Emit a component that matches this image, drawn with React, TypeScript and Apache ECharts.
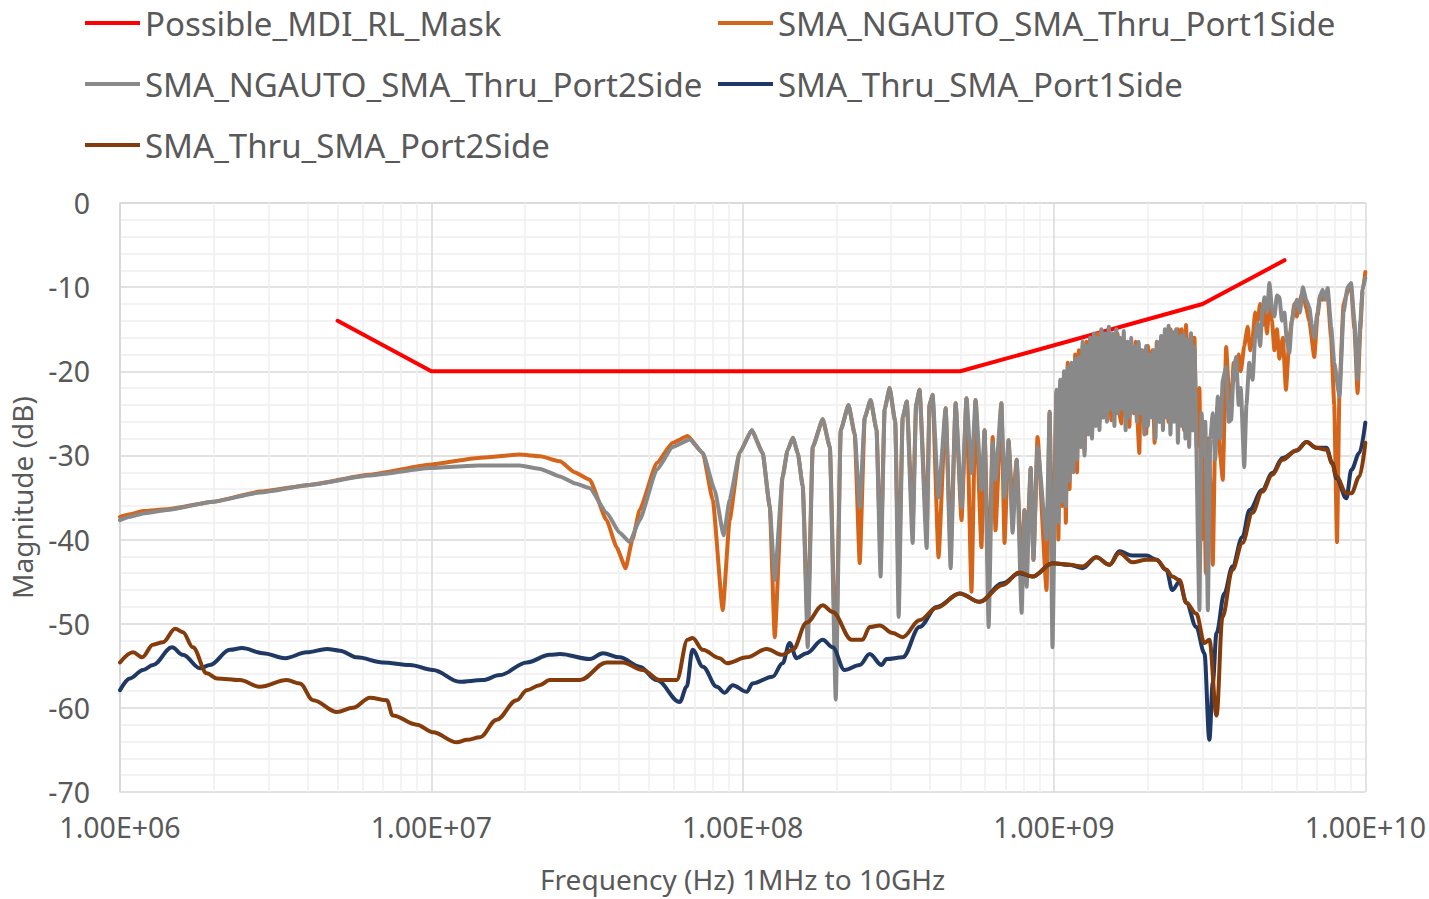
import React, { useEffect, useRef } from "react";
import * as echarts from "echarts";

// Frequencies for the mask are in Hz; the measured traces are stored as [log10(Hz), dB]
const MASK_HZ_DB: [number, number][] = [
  [5e6, -14], [1e7, -20], [5e8, -20], [3e9, -12], [5.5e9, -6.8],
];

const NGAUTO_PORT1_LOGF_DB: [number, number][] = [
  [6.000, -37.3], [6.032, -37.0], [6.074, -36.6], [6.150, -36.4], [6.299, -35.5], [6.450, -34.3],
  [6.610, -33.5], [6.800, -32.3], [6.995, -31.1], [7.150, -30.3], [7.284, -29.9], [7.350, -30.1],
  [7.413, -30.7], [7.460, -32.0], [7.509, -32.9], [7.563, -37.7], [7.595, -40.9], [7.624, -43.4],
  [7.646, -40.0], [7.669, -36.5], [7.724, -30.9], [7.775, -28.5], [7.823, -27.7], [7.872, -29.7],
  [7.904, -35.3], [7.936, -48.4], [7.958, -37.7], [7.990, -29.7], [8.029, -27.0], [8.064, -29.7],
  [8.087, -36.1], [8.103, -51.6], [8.128, -32.6], [8.144, -29.4], [8.161, -27.9], [8.177, -29.7],
  [8.193, -33.7], [8.209, -50.0], [8.225, -29.0], [8.257, -25.7], [8.280, -29.0], [8.299, -55.0],
  [8.315, -27.0], [8.340, -24.0], [8.360, -27.5], [8.376, -42.8], [8.392, -25.5], [8.411, -23.4],
  [8.430, -27.0], [8.443, -42.0], [8.456, -24.5], [8.472, -22.0], [8.490, -26.0], [8.501, -45.0],
  [8.514, -25.5], [8.527, -23.6], [8.546, -38.0], [8.557, -24.0], [8.568, -22.2], [8.591, -39.0],
  [8.600, -24.0], [8.610, -22.8], [8.629, -42.1], [8.652, -24.4], [8.668, -41.0], [8.684, -23.8],
  [8.703, -37.7], [8.719, -23.2], [8.735, -46.2], [8.748, -23.4], [8.767, -40.9], [8.777, -27.0],
  [8.790, -45.0], [8.803, -27.8], [8.812, -38.9], [8.831, -23.8], [8.841, -40.4], [8.854, -28.2],
  [8.867, -36.0], [8.880, -30.5], [8.896, -44.0], [8.905, -36.5], [8.912, -42.0], [8.925, -31.5],
  [8.934, -42.4], [8.947, -27.8], [8.976, -46.0], [8.986, -24.8], [8.995, -45.0],
  [9.008, -22.5], [9.014, -40.0], [9.020, -21.5], [9.026, -36.0], [9.032, -20.5], [9.038, -38.0],
  [9.044, -19.0], [9.050, -34.0], [9.056, -19.5], [9.062, -31.0], [9.068, -18.0], [9.074, -32.0],
  [9.080, -17.5], [9.086, -28.0], [9.092, -17.0], [9.098, -29.5], [9.104, -16.5], [9.110, -26.5],
  [9.116, -16.0], [9.122, -27.5], [9.128, -15.8], [9.134, -25.5], [9.140, -15.5], [9.146, -26.0],
  [9.152, -15.2], [9.158, -25.0], [9.164, -15.6], [9.170, -24.5], [9.176, -15.0], [9.184, -25.8],
  [9.190, -16.0], [9.198, -24.0], [9.204, -15.5], [9.210, -25.0], [9.216, -26.2], [9.222, -16.0],
  [9.230, -25.5], [9.236, -16.5], [9.242, -26.6], [9.248, -17.0], [9.256, -25.0], [9.262, -16.5],
  [9.268, -26.0], [9.274, -29.7], [9.280, -17.5], [9.288, -26.0], [9.296, -27.4], [9.302, -17.0],
  [9.310, -25.0], [9.316, -17.5], [9.323, -28.5], [9.330, -16.5], [9.339, -26.0], [9.346, -16.0],
  [9.352, -25.5], [9.360, -15.5], [9.368, -26.0], [9.374, -15.0], [9.380, -25.0], [9.386, -15.5],
  [9.392, -23.4], [9.398, -15.0], [9.404, -25.5], [9.410, -15.0], [9.418, -27.0], [9.424, -14.5],
  [9.432, -26.0], [9.440, -15.5], [9.446, -27.0], [9.451, -16.0], [9.458, -29.0], [9.467, -22.0],
  [9.474, -40.0], [9.480, -26.0], [9.488, -44.0], [9.496, -28.0], [9.504, -35.0], [9.510, -43.0],
  [9.518, -27.0], [9.526, -24.0], [9.534, -30.0], [9.542, -32.9], [9.553, -17.1], [9.561, -22.0],
  [9.569, -24.0], [9.577, -19.0], [9.585, -21.0], [9.593, -18.0], [9.600, -20.0], [9.611, -17.0],
  [9.622, -14.7], [9.630, -17.5], [9.638, -16.0], [9.646, -13.0], [9.654, -14.0], [9.662, -12.0],
  [9.670, -14.5], [9.676, -12.5], [9.684, -15.5], [9.692, -12.0], [9.700, -14.0], [9.708, -17.5],
  [9.716, -15.0], [9.724, -18.5], [9.735, -16.0], [9.745, -22.2], [9.756, -16.0], [9.764, -14.0],
  [9.772, -12.0], [9.780, -13.5], [9.790, -11.5], [9.799, -10.5], [9.810, -12.5], [9.820, -14.0],
  [9.836, -18.3], [9.846, -13.5], [9.855, -11.0], [9.863, -11.5], [9.879, -11.0], [9.890, -16.0],
  [9.900, -24.0], [9.909, -40.3], [9.917, -22.0], [9.930, -12.0], [9.943, -10.5], [9.954, -10.0],
  [9.965, -15.0], [9.975, -22.6], [9.984, -15.0], [9.991, -10.5], [10.000, -8.2],
];

const NGAUTO_PORT2_LOGF_DB: [number, number][] = [
  [6.000, -37.7], [6.032, -37.3], [6.074, -36.9], [6.150, -36.5], [6.299, -35.5], [6.450, -34.4],
  [6.610, -33.5], [6.800, -32.4], [6.995, -31.5], [7.150, -31.2], [7.284, -31.2], [7.350, -31.6],
  [7.413, -32.5], [7.460, -33.3], [7.509, -33.9], [7.563, -36.8], [7.605, -39.2], [7.637, -40.3],
  [7.669, -37.7], [7.724, -31.7], [7.775, -29.0], [7.830, -28.1], [7.872, -29.7], [7.910, -34.1],
  [7.939, -39.5], [7.958, -35.3], [7.990, -29.7], [8.029, -27.0], [8.064, -29.7], [8.087, -36.1],
  [8.103, -44.8], [8.128, -32.6], [8.144, -29.4], [8.161, -27.9], [8.177, -29.7], [8.193, -33.7],
  [8.209, -52.8], [8.225, -29.0], [8.257, -25.7], [8.280, -29.0], [8.299, -59.0], [8.315, -27.0],
  [8.340, -24.0], [8.360, -27.5], [8.376, -36.2], [8.392, -25.5], [8.411, -23.4], [8.430, -27.0],
  [8.443, -44.4], [8.456, -24.5], [8.472, -22.0], [8.490, -26.0], [8.501, -49.2], [8.514, -25.5],
  [8.527, -23.6], [8.546, -40.4], [8.557, -24.0], [8.568, -22.2], [8.591, -41.0], [8.600, -24.0],
  [8.610, -22.8], [8.629, -35.0], [8.652, -24.4], [8.668, -43.4], [8.684, -23.8], [8.703, -36.2],
  [8.719, -23.2], [8.735, -32.1], [8.748, -23.4], [8.767, -34.1], [8.777, -27.0], [8.790, -50.4],
  [8.803, -28.5], [8.812, -32.9], [8.831, -23.8], [8.841, -35.0], [8.854, -28.2], [8.867, -39.2],
  [8.880, -30.5], [8.896, -48.7], [8.905, -36.5], [8.912, -45.6], [8.925, -31.5], [8.934, -42.4],
  [8.947, -29.0], [8.976, -40.0], [8.986, -24.8], [8.995, -52.8],
  [9.008, -22.2], [9.014, -38.0], [9.020, -21.0], [9.026, -35.5], [9.032, -20.0], [9.038, -36.0],
  [9.044, -19.5], [9.050, -33.0], [9.056, -19.0], [9.062, -32.0], [9.068, -18.5], [9.074, -30.5],
  [9.080, -18.3], [9.086, -29.0], [9.092, -16.5], [9.098, -30.0], [9.104, -17.0], [9.110, -27.5],
  [9.116, -16.0], [9.122, -28.0], [9.128, -15.5], [9.134, -26.5], [9.140, -16.0], [9.146, -27.0],
  [9.152, -15.0], [9.158, -25.5], [9.164, -15.5], [9.170, -26.0], [9.176, -14.7], [9.182, -24.5],
  [9.188, -15.5], [9.194, -26.5], [9.200, -15.0], [9.206, -25.0], [9.212, -16.0], [9.218, -24.5],
  [9.224, -15.2], [9.230, -27.0], [9.236, -16.5], [9.242, -25.5], [9.248, -16.0], [9.254, -24.8],
  [9.260, -17.0], [9.266, -26.0], [9.272, -16.5], [9.278, -25.0], [9.284, -17.5], [9.290, -27.5],
  [9.296, -17.0], [9.302, -26.5], [9.308, -18.0], [9.314, -25.5], [9.320, -17.5], [9.326, -28.0],
  [9.332, -16.5], [9.338, -26.0], [9.344, -15.8], [9.350, -27.0], [9.356, -15.0], [9.362, -25.5],
  [9.368, -14.6], [9.374, -27.5], [9.380, -15.3], [9.386, -26.0], [9.392, -15.0], [9.398, -28.5],
  [9.404, -15.8], [9.410, -26.5], [9.416, -15.5], [9.422, -28.0], [9.428, -16.2], [9.434, -29.0],
  [9.440, -15.5], [9.446, -27.0], [9.451, -17.1], [9.467, -48.4], [9.474, -25.0], [9.480, -30.0],
  [9.486, -26.0], [9.494, -48.4], [9.502, -28.0], [9.510, -25.0], [9.518, -30.5], [9.526, -23.0],
  [9.534, -28.0], [9.542, -21.0], [9.553, -19.5], [9.561, -26.0], [9.569, -25.8], [9.577, -20.0],
  [9.585, -18.3], [9.593, -24.0], [9.600, -22.0], [9.611, -31.4], [9.618, -24.0], [9.627, -19.0],
  [9.638, -21.0], [9.646, -16.0], [9.654, -14.3], [9.662, -17.0], [9.670, -12.5], [9.676, -11.2],
  [9.684, -13.0], [9.692, -9.5], [9.700, -12.5], [9.708, -13.5], [9.716, -11.0], [9.724, -11.2],
  [9.732, -14.0], [9.740, -13.0], [9.748, -16.5], [9.756, -17.8], [9.764, -14.0], [9.772, -12.4],
  [9.780, -11.5], [9.790, -13.0], [9.799, -10.0], [9.810, -11.5], [9.820, -12.4], [9.828, -14.5],
  [9.836, -16.0], [9.846, -13.0], [9.855, -11.0], [9.863, -10.3], [9.871, -11.5], [9.879, -10.1],
  [9.890, -14.7], [9.900, -19.0], [9.917, -23.0], [9.930, -13.0], [9.943, -10.0], [9.954, -9.5],
  [9.965, -14.0], [9.975, -21.0], [9.984, -14.0], [9.991, -10.3], [10.000, -8.9],
];

const THRU_PORT1_LOGF_DB: [number, number][] = [
  [6.000, -57.9], [6.032, -56.5], [6.074, -55.5], [6.106, -54.9], [6.167, -52.8], [6.202, -53.7],
  [6.257, -55.3], [6.289, -54.9], [6.353, -53.1], [6.392, -52.9], [6.459, -53.5], [6.530, -54.1],
  [6.600, -53.4], [6.665, -53.0], [6.706, -53.2], [6.761, -54.0], [6.844, -54.6], [6.931, -54.9],
  [7.005, -55.5], [7.091, -56.9], [7.165, -56.7], [7.220, -56.1], [7.307, -54.6], [7.380, -53.7],
  [7.413, -53.6], [7.509, -54.2], [7.551, -53.5], [7.605, -54.0], [7.669, -55.1], [7.724, -56.7],
  [7.798, -59.3], [7.820, -57.5], [7.839, -53.1], [7.872, -55.1], [7.917, -57.5], [7.942, -58.2],
  [7.968, -57.3], [8.013, -58.1], [8.032, -57.1], [8.096, -56.3], [8.128, -54.7], [8.151, -52.3],
  [8.173, -54.1], [8.205, -53.5], [8.257, -51.9], [8.289, -52.8], [8.327, -55.5], [8.376, -54.9],
  [8.408, -53.6], [8.446, -54.9], [8.462, -54.2], [8.514, -54.0], [8.568, -50.4], [8.623, -48.0],
  [8.697, -46.4], [8.761, -47.4], [8.835, -45.2], [8.889, -44.0], [8.931, -44.4], [8.995, -42.8],
  [9.050, -43.0], [9.091, -43.4], [9.136, -42.1], [9.178, -43.0], [9.210, -41.4], [9.252, -41.9],
  [9.297, -41.9], [9.329, -42.4], [9.361, -43.6], [9.380, -46.0], [9.403, -45.0], [9.425, -47.5],
  [9.457, -50.4], [9.483, -53.5], [9.499, -63.8], [9.510, -57.0], [9.522, -51.1], [9.547, -46.4],
  [9.573, -43.2], [9.605, -39.7], [9.628, -36.5], [9.669, -34.1], [9.701, -32.1], [9.734, -30.3],
  [9.779, -29.4], [9.811, -28.4], [9.843, -29.1], [9.875, -29.1], [9.894, -30.9], [9.907, -32.7],
  [9.939, -35.1], [9.955, -31.7], [9.981, -29.7], [10.000, -26.1],
];

const THRU_PORT2_LOGF_DB: [number, number][] = [
  [6.000, -54.6], [6.042, -53.4], [6.071, -54.0], [6.106, -52.5], [6.138, -52.2], [6.177, -50.6],
  [6.202, -51.0], [6.234, -52.8], [6.279, -55.9], [6.311, -56.5], [6.385, -56.7], [6.449, -57.5],
  [6.536, -56.7], [6.578, -57.1], [6.620, -59.1], [6.697, -60.5], [6.748, -60.0], [6.803, -58.8],
  [6.857, -59.1], [6.876, -60.9], [6.953, -62.0], [7.005, -62.9], [7.082, -64.1], [7.114, -63.8],
  [7.156, -63.5], [7.210, -61.4], [7.274, -59.1], [7.307, -57.9], [7.348, -57.3], [7.380, -56.7],
  [7.477, -56.7], [7.563, -54.6], [7.615, -54.6], [7.679, -55.5], [7.734, -56.7], [7.788, -56.7],
  [7.823, -51.9], [7.839, -51.7], [7.872, -53.1], [7.926, -54.1], [7.949, -54.7], [8.013, -54.0],
  [8.077, -53.0], [8.128, -53.7], [8.161, -53.1], [8.205, -49.9], [8.257, -47.8], [8.289, -48.6],
  [8.350, -51.9], [8.385, -51.9], [8.408, -50.4], [8.440, -50.2], [8.482, -51.1], [8.514, -51.6],
  [8.568, -49.6], [8.623, -48.1], [8.697, -46.4], [8.761, -47.4], [8.835, -45.4], [8.889, -43.9],
  [8.931, -44.4], [8.995, -42.8], [9.050, -43.0], [9.091, -43.2], [9.136, -42.1], [9.178, -43.0],
  [9.210, -41.6], [9.252, -42.7], [9.297, -42.4], [9.329, -42.4], [9.361, -43.6], [9.380, -44.4],
  [9.403, -44.8], [9.425, -47.5], [9.457, -48.8], [9.483, -52.3], [9.499, -51.9], [9.522, -60.9],
  [9.541, -49.2], [9.573, -43.6], [9.605, -40.4], [9.637, -36.8], [9.669, -34.3], [9.701, -32.3],
  [9.734, -30.5], [9.779, -29.4], [9.811, -28.4], [9.843, -29.1], [9.875, -29.3], [9.894, -31.0],
  [9.907, -32.5], [9.939, -34.5], [9.955, -34.5], [9.981, -32.5], [10.000, -28.5],
];

const SERIES_NAMES = [
  "Possible_MDI_RL_Mask",
  "SMA_NGAUTO_SMA_Thru_Port1Side",
  "SMA_NGAUTO_SMA_Thru_Port2Side",
  "SMA_Thru_SMA_Port1Side",
  "SMA_Thru_SMA_Port2Side",
];
const SERIES_COLORS = ["#FF0000", "#D4651A", "#898989", "#1F3864", "#843C0C"];
const SERIES_SMOOTH = [0, 0.15, 0.15, 0.35, 0.35];

const X_DECADES = [1e6, 1e7, 1e8, 1e9];
const MINOR_MULTIPLIERS = [2, 3, 4, 5, 6, 7, 8, 9];

const X_MIN = 1e6;
const X_MAX = 1e10;
const Y_MIN = -70;
const Y_MAX = 0;
const Y_STEP = 10;

const FONT = "'Noto Sans', 'Open Sans', sans-serif";
const TEXT_COLOR = "#595959";

function toHz(arr: [number, number][]) {
  return arr.map(([lf, db]) => [Math.pow(10, lf), db]);
}

function sciLabel(v: number) {
  const e = Math.round(Math.log10(v));
  const m = v / Math.pow(10, e);
  return m.toFixed(2) + "E+" + String(e).padStart(2, "0");
}

export default function App() {
  const ref = useRef<HTMLDivElement>(null);

  useEffect(() => {
    if (!ref.current) return;
    const chart = echarts.init(ref.current, undefined, { renderer: "svg" });

    const minorXs: number[] = [];
    X_DECADES.forEach((d) => MINOR_MULTIPLIERS.forEach((m) => minorXs.push(m * d)));

    const datasets = [
      MASK_HZ_DB.map(([f, d]) => [f, d]),
      toHz(NGAUTO_PORT1_LOGF_DB),
      toHz(NGAUTO_PORT2_LOGF_DB),
      toHz(THRU_PORT1_LOGF_DB),
      toHz(THRU_PORT2_LOGF_DB),
    ];

    const lineSeries = SERIES_NAMES.map((name, i) => ({
      name,
      type: "line",
      data: datasets[i],
      color: SERIES_COLORS[i],
      showSymbol: false,
      symbol: "none",
      smooth: SERIES_SMOOTH[i] || false,
      smoothMonotone: "x",
      z: 3 + i,
      lineStyle: { color: SERIES_COLORS[i], width: 4, join: "round", cap: "round" },
      emphasis: { disabled: true },
    }));

    const legendText = {
      fontSize: 33,
      color: TEXT_COLOR,
      fontFamily: FONT,
      lineHeight: 46,
    };

    const legendBase = {
      orient: "vertical",
      top: 0,
      padding: 0,
      itemGap: 15,
      itemWidth: 55,
      itemHeight: 4,
      icon: "rect",
      selectedMode: false,
      textStyle: legendText,
    };

    chart.setOption({
      animation: false,
      backgroundColor: "#ffffff",
      textStyle: { fontFamily: FONT },
      grid: { left: 120, right: 63, top: 203, bottom: 107, containLabel: false },
      legend: [
        { ...legendBase, left: 85, data: [SERIES_NAMES[0], SERIES_NAMES[2], SERIES_NAMES[4]] },
        { ...legendBase, left: 718, data: [SERIES_NAMES[1], SERIES_NAMES[3]] },
      ],
      xAxis: {
        type: "log",
        logBase: 10,
        min: X_MIN,
        max: X_MAX,
        name: "Frequency (Hz) 1MHz to 10GHz",
        nameLocation: "middle",
        nameGap: 73,
        nameTextStyle: { fontSize: 28, color: TEXT_COLOR, fontFamily: FONT },
        axisLine: { show: true, lineStyle: { color: "#d9d9d9", width: 1.5 } },
        axisTick: { show: false },
        axisLabel: {
          formatter: sciLabel,
          fontSize: 28.5,
          color: TEXT_COLOR,
          margin: 20,
          fontFamily: FONT,
        },
        splitLine: { show: true, lineStyle: { color: "#d9d9d9", width: 1.5 } },
      },
      yAxis: {
        type: "value",
        min: Y_MIN,
        max: Y_MAX,
        interval: Y_STEP,
        name: "Magnitude (dB)",
        nameLocation: "middle",
        nameGap: 84,
        nameTextStyle: { fontSize: 28, color: TEXT_COLOR, fontFamily: FONT },
        axisLine: { show: true, lineStyle: { color: "#d9d9d9", width: 1.5 } },
        axisTick: { show: false },
        axisLabel: { fontSize: 28.5, color: TEXT_COLOR, margin: 30, fontFamily: FONT },
        splitLine: { show: true, lineStyle: { color: "#d9d9d9", width: 1.5 } },
        minorTick: { show: false, splitNumber: 5 },
        minorSplitLine: { show: true, lineStyle: { color: "#efefef", width: 1.5 } },
      },
      series: [
        {
          name: "minorGrid",
          type: "line",
          data: [],
          z: 1,
          silent: true,
          markLine: {
            silent: true,
            z: 1,
            symbol: ["none", "none"],
            label: { show: false },
            lineStyle: { color: "#efefef", width: 1.5, type: "solid" },
            emphasis: { disabled: true },
            data: minorXs.map((v) => ({ xAxis: v })),
          },
        },
        ...lineSeries,
      ],
    });

    return () => chart.dispose();
  }, []);

  return <div ref={ref} style={{ width: 1429, height: 899, position: "absolute", left: 0, top: 0 }} />;
}
